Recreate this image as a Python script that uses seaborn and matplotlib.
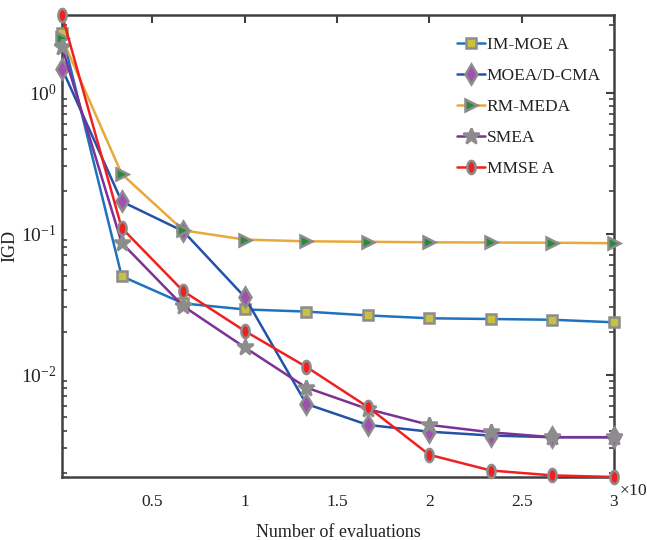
import numpy as np
import pandas as pd
import matplotlib
matplotlib.use("Agg")
import matplotlib.pyplot as plt
from matplotlib.path import Path
from matplotlib.ticker import FixedLocator, FuncFormatter, LogLocator, NullFormatter
import seaborn as sns

# Evaluations (x 10^4)
evals = [0.01, 1/3, 2/3, 1.0, 4/3, 5/3, 2.0, 7/3, 8/3, 3.0]

im_moea = [2.64, 0.0499, 0.0320, 0.0290, 0.0280, 0.0263, 0.0251, 0.0248, 0.0245, 0.0235]
moead_cma = [1.48, 0.169, 0.104, 0.0355, 0.0062, 0.0044, 0.00394, 0.0037, 0.0036, 0.0036]
rm_meda = [2.43, 0.265, 0.1055, 0.0907, 0.0882, 0.0875, 0.0868, 0.0865, 0.0862, 0.0855]
smea = [2.11, 0.0860, 0.0306, 0.0156, 0.0081, 0.0057, 0.0044, 0.0039, 0.0036, 0.0036]
mmsea = [3.55, 0.1097, 0.0391, 0.0204, 0.01135, 0.0059, 0.0027, 0.00209, 0.00193, 0.00188]

names = ["IM-MOE A", "MOEA/D-CMA", "RM-MEDA", "SMEA", "MMSE A"]
series = [im_moea, moead_cma, rm_meda, smea, mmsea]

x_ticks = [0.5, 1, 1.5, 2, 2.5, 3]
x_tick_labels = ["0.5", "1", "1.5", "2", "2.5", "3"]

df = pd.DataFrame({
    "evals": np.tile(evals, len(names)),
    "IGD": np.concatenate(series),
    "algo": np.repeat(names, len(evals)),
})

sns.set_theme(style="white")
plt.rcParams["font.family"] = ["Liberation Serif", "DejaVu Serif"]
plt.rcParams["mathtext.default"] = "regular"

# upright ellipse marker
theta = np.linspace(0, 2 * np.pi, 40)
ellipse = Path(np.column_stack([0.62 * np.cos(theta), np.sin(theta)]), closed=True)

line_colors = ["#1f72bd", "#2253a8", "#e8a93a", "#7b3294", "#f02020"]
face_colors = ["#c8c040", "#a050b0", "#2a8a3a", "#8c8c8c", "#f02020"]
markers = ["s", "d", ">", "*", ellipse]
sizes = [6.5, 10, 9, 12, 9.5]
edge = "#8c8c8c"

fig = plt.figure(figsize=(6.47, 5.40), dpi=100)
ax = fig.add_axes([62 / 647, 1 - 477 / 540, (614 - 62) / 647, (477 - 15) / 540])

for name, lc, fc, mk, ms in zip(names, line_colors, face_colors, markers, sizes):
    sns.lineplot(
        data=df[df["algo"] == name], x="evals", y="IGD", ax=ax,
        color=lc, linewidth=1.8, marker=mk, markersize=ms,
        markerfacecolor=fc, markeredgecolor=edge, markeredgewidth=1.8,
        label=name, clip_on=False, zorder=3,
    )

ax.set_yscale("log")
ax.set_xlim(0.01, 3)
ax.set_ylim(0.00188, 3.55)

ax.xaxis.set_major_locator(FixedLocator(x_ticks))
ax.set_xticklabels(x_tick_labels)
ax.yaxis.set_major_locator(LogLocator(base=10, numticks=10))
ax.yaxis.set_minor_locator(LogLocator(base=10, subs=np.arange(2, 10), numticks=20))
ax.yaxis.set_minor_formatter(NullFormatter())
ax.yaxis.set_major_formatter(FuncFormatter(
    lambda v, p: r"$10^{%d}$" % int(round(np.log10(v)))))

spine_col = "#404040"
for s in ax.spines.values():
    s.set_color(spine_col)
    s.set_linewidth(1.8)
ax.tick_params(axis="both", which="major", direction="in", length=6, width=1.5,
               colors=spine_col, labelcolor="#222222", labelsize=12.5,
               top=True, right=True)
ax.tick_params(axis="x", which="major", pad=12)
ax.tick_params(axis="y", which="minor", direction="in", length=3.5, width=1.2,
               colors=spine_col, left=True, right=True)
ax.tick_params(axis="y", which="major", labelsize=14, pad=4)

ax.set_xlabel("Number of evaluations", fontsize=13, color="#222222", labelpad=10)
ax.set_ylabel("IGD", fontsize=13, color="#222222")
ax.yaxis.set_label_coords(-44 / 552, 0.5)

fig.text(619 / 647, 1 - 491 / 540, r"$\times10^{4}$", fontsize=12.5,
         color="#222222", va="center", ha="left")

leg = ax.legend(loc="upper right", bbox_to_anchor=(0.995, 0.975), frameon=False,
                fontsize=12.5, handlelength=1.6, handletextpad=0.1,
                labelspacing=0.85, borderaxespad=0.2)
for t in leg.get_texts():
    t.set_color("#222222")

fig.savefig("out.png", dpi=100)
